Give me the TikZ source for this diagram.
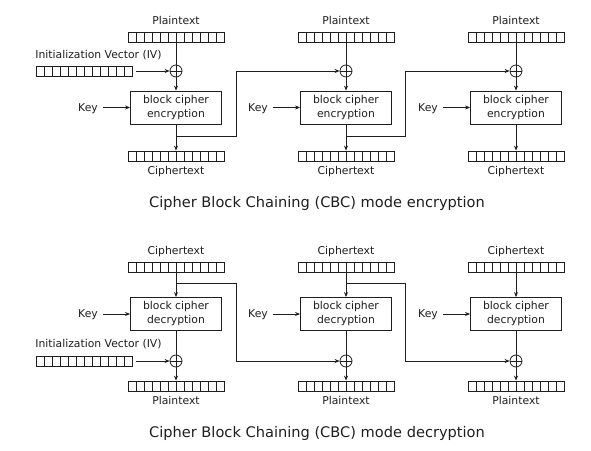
\documentclass[tikz,border=0pt]{standalone}
\usepackage{fontspec}
\setmainfont{DejaVu Sans}
\usetikzlibrary{arrows.meta}
\begin{document}
\begin{tikzpicture}[x=1pt,y=-1pt, line width=0.8pt, color={rgb,255:red,30;green,30;blue,30},
  lbl/.style={font=\fontsize{10.8}{13}\selectfont, inner sep=0pt, anchor=base},
  ttl/.style={font=\fontsize{14.6}{17}\selectfont, inner sep=0pt, anchor=base},
  reg/.style={draw, minimum width=96pt, minimum height=10pt, inner sep=0pt,
    path picture={\foreach \i in {1,...,11}{\draw ([xshift=\i*8pt]path picture bounding box.south west) -- ([xshift=\i*8pt]path picture bounding box.north west);}}},
  xorn/.style={draw, circle, minimum size=12pt, inner sep=0pt,
    path picture={\draw (path picture bounding box.north) -- (path picture bounding box.south) (path picture bounding box.west) -- (path picture bounding box.east);}},
  cipher/.style={draw, minimum width=91pt, minimum height=33pt, align=center, inner sep=0pt, font=\fontsize{10.8}{14}\selectfont},
  arr/.style={-{Stealth[length=5pt,width=4pt]}},
]
\useasboundingbox (0,0) rectangle (591,450);
% ---------- encryption ----------
\foreach \c/\cx in {1/176,2/346,3/516}{
  \node[lbl] (ptl\c) at (\cx,24) {Plaintext};
  \node[reg] (pt\c) at (\cx,37) {};
  \node[xorn] (x\c) at (\cx,71) {};
  \node[cipher] (b\c) at (\cx,107.5) {block cipher\\encryption};
  \node[reg] (ct\c) at (\cx,156) {};
  \node[lbl] (ctl\c) at (\cx,174) {Ciphertext};
  \node[lbl] (key\c) at (\cx-88,111) {Key};
  \coordinate (br\c) at (\cx,136);
  \draw (pt\c) -- (x\c);
  \draw[arr] (x\c) -- (b\c);
  \draw[arr] (b\c) -- (ct\c);
  \draw[arr] (key\c.east |- b\c.west) ++(5,0) -- (b\c.west);
}
\node[lbl] (ivl) at (98.5,58) {Initialization Vector (IV)};
\node[reg] (iv) at (84,71.5) {};
\draw[arr] (iv.east |- x1.west) ++(4,0) -- (x1.west);
\coordinate (k1) at (236,136);
\coordinate (k2) at (405.5,136);
\draw[arr] (br1) -- (k1) |- (x2);
\draw[arr] (br2) -- (k2) |- (x3);
\node[ttl] (t1) at (317,207) {Cipher Block Chaining (CBC) mode encryption};
% ---------- decryption ----------
\foreach \c/\cx in {1/176,2/346,3/516}{
  \node[lbl] (ctdl\c) at (\cx,254) {Ciphertext};
  \node[reg] (ctd\c) at (\cx,267) {};
  \node[cipher] (bd\c) at (\cx,314) {block cipher\\decryption};
  \node[xorn] (xd\c) at (\cx,361) {};
  \node[reg] (ptd\c) at (\cx,386) {};
  \node[lbl] (ptdl\c) at (\cx,404) {Plaintext};
  \node[lbl] (keyd\c) at (\cx-88,317) {Key};
  \coordinate (brd\c) at (\cx,283);
  \draw[arr] (ctd\c) -- (bd\c);
  \draw (bd\c) -- (xd\c);
  \draw[arr] (xd\c) -- (ptd\c);
  \draw[arr] (keyd\c.east |- bd\c.west) ++(5,0) -- (bd\c.west);
}
\node[lbl] (ivdl) at (98.5,347) {Initialization Vector (IV)};
\node[reg] (ivd) at (84,361.5) {};
\draw[arr] (ivd.east |- xd1.west) ++(4,0) -- (xd1.west);
\coordinate (kd1) at (236,283);
\coordinate (kd2) at (405.5,283);
\draw[arr] (brd1) -- (kd1) |- (xd2);
\draw[arr] (brd2) -- (kd2) |- (xd3);
\node[ttl] (t2) at (317,437) {Cipher Block Chaining (CBC) mode decryption};
\end{tikzpicture}
\end{document}
